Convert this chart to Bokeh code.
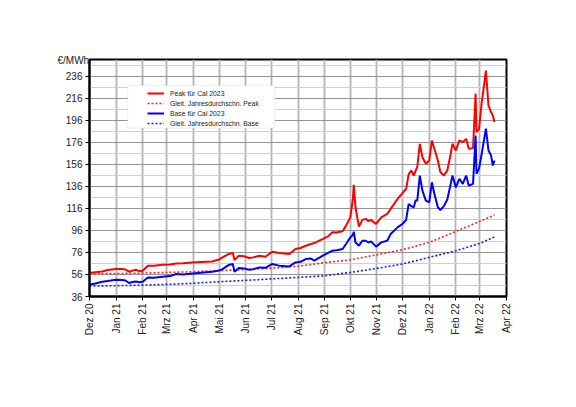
import math
import pandas as pd
from bokeh.plotting import figure
from bokeh.models import (Range1d, FixedTicker, Legend, LegendItem, Title,
                          BoxAnnotation, ColumnDataSource)
from bokeh.embed import file_html
from bokeh.resources import INLINE

# ---------------- data ----------------
dates = ["2020-12-01", "2020-12-08", "2020-12-16", "2020-12-22", "2021-01-01",
         "2021-01-08", "2021-01-12", "2021-01-16", "2021-01-20", "2021-01-24",
         "2021-01-28", "2021-02-01", "2021-02-07", "2021-02-14", "2021-02-24",
         "2021-03-05", "2021-03-12", "2021-03-20", "2021-03-31", "2021-04-10",
         "2021-04-23", "2021-05-01", "2021-05-05", "2021-05-12", "2021-05-17",
         "2021-05-19", "2021-05-24", "2021-05-30", "2021-06-05", "2021-06-10",
         "2021-06-17", "2021-06-24", "2021-07-02", "2021-07-10", "2021-07-22",
         "2021-07-29", "2021-08-04", "2021-08-10", "2021-08-16", "2021-08-20",
         "2021-08-30", "2021-09-05", "2021-09-10", "2021-09-15", "2021-09-22",
         "2021-09-26", "2021-10-01", "2021-10-04", "2021-10-05", "2021-10-07",
         "2021-10-11", "2021-10-15", "2021-10-19", "2021-10-22", "2021-10-25",
         "2021-10-31", "2021-11-06", "2021-11-13", "2021-11-17", "2021-11-25",
         "2021-12-01", "2021-12-05", "2021-12-08", "2021-12-11", "2021-12-14",
         "2021-12-16", "2021-12-18", "2021-12-21", "2021-12-24", "2021-12-28",
         "2022-01-01", "2022-01-04", "2022-01-07", "2022-01-11", "2022-01-14",
         "2022-01-18", "2022-01-22", "2022-01-26", "2022-01-28", "2022-02-01",
         "2022-02-05", "2022-02-09", "2022-02-13", "2022-02-16", "2022-02-21",
         "2022-02-24", "2022-02-25", "2022-02-28", "2022-03-03", "2022-03-08",
         "2022-03-11", "2022-03-14", "2022-03-16", "2022-03-18"]

peak = [57.3, 58.0, 58.7, 60.0, 60.9,
        61.0, 60.5, 58.5, 59.5, 60.3,
        59.0, 59.4, 63.9, 64.0, 64.8,
        65.0, 66.0, 66.2, 66.9, 67.3,
        67.8, 69.5, 71.5, 74.5, 75.5,
        69.0, 73.0, 72.5, 70.9, 71.5,
        73.0, 72.0, 76.6, 75.5, 74.5,
        79.0, 80.0, 82.0, 83.6, 84.5,
        88.2, 90.5, 94.2, 94.0, 95.1,
        100.3, 107.8, 125.0, 137.3, 117.0,
        99.4, 105.5, 106.4, 104.5, 105.5,
        101.8, 107.8, 110.9, 115.5, 124.5,
        130.0, 133.5, 147.0, 150.3, 145.7,
        150.0, 153.3, 174.5, 162.4, 156.4,
        159.4, 177.5, 170.0, 159.4, 148.7,
        145.7, 150.3, 165.5, 174.5, 168.5,
        177.5, 176.0, 179.0, 170.0, 170.6,
        220.0, 185.0, 188.0, 210.9, 241.0,
        209.4, 203.3, 200.3, 194.2]

base = [46.6, 47.8, 49.4, 50.0, 51.2,
        51.0, 50.5, 48.2, 49.2, 49.6,
        49.0, 49.4, 53.3, 53.0, 53.9,
        54.5, 56.4, 56.0, 56.9, 57.6,
        58.5, 59.5, 60.9, 64.5, 65.5,
        58.5, 61.8, 61.5, 60.3, 60.8,
        62.4, 62.0, 65.5, 64.0, 63.3,
        66.9, 67.5, 70.0, 70.5, 68.5,
        73.0, 75.5, 77.5, 78.0, 79.1,
        83.6, 89.6, 92.0, 94.8, 85.0,
        82.1, 86.6, 86.6, 85.0, 86.0,
        81.2, 85.1, 86.6, 92.7, 98.7,
        102.0, 105.5, 120.0, 118.0, 117.0,
        123.0, 123.0, 145.7, 132.0, 123.0,
        121.5, 139.6, 129.0, 117.0, 114.5,
        118.0, 124.0, 138.2, 145.7, 135.0,
        142.8, 138.2, 145.7, 136.6, 138.2,
        182.0, 147.3, 152.0, 165.0, 188.2,
        168.5, 164.0, 154.8, 159.4]

avg_dates = ["2020-12-01", "2021-01-01", "2021-02-01", "2021-03-01", "2021-04-01",
             "2021-05-01", "2021-06-01", "2021-07-01", "2021-08-01", "2021-09-01",
             "2021-10-01", "2021-11-01", "2021-12-01", "2022-01-01", "2022-02-01",
             "2022-03-01", "2022-03-18"]
avg_peak = [56.6, 56.8, 57.2, 57.8, 58.5, 59.4, 60.5, 61.7, 63.4, 66.7,
            69.3, 73.9, 78.5, 85.1, 95.0, 104.2, 110.0]
avg_base = [45.5, 45.8, 46.3, 47.0, 48.0, 49.4, 50.6, 52.0, 53.3, 54.8,
            57.8, 61.5, 65.5, 71.5, 77.5, 84.2, 90.0]

tick_dates = ["2020-12-01", "2021-01-01", "2021-02-01", "2021-03-01", "2021-04-01",
              "2021-05-01", "2021-06-01", "2021-07-01", "2021-08-01", "2021-09-01",
              "2021-10-01", "2021-11-01", "2021-12-01", "2022-01-01", "2022-02-01",
              "2022-03-01", "2022-04-01"]
tick_labels = ["Dez 20", "Jan 21", "Feb 21", "Mrz 21", "Apr 21", "Mai 21",
               "Jun 21", "Jul 21", "Aug 21", "Sep 21", "Okt 21", "Nov 21",
               "Dez 21", "Jan 22", "Feb 22", "Mrz 22", "Apr 22"]
y_ticks = [36, 56, 76, 96, 116, 136, 156, 176, 196, 216, 236]
y_minor = [46, 66, 86, 106, 126, 146, 166, 186, 206, 226, 246]
unit_label = "€/MWh"

# ---------------- plot ----------------
FONT = "Liberation Sans"

def ms(d):
    return float(pd.Timestamp(d).value // 10**6)

src = ColumnDataSource(dict(x=pd.to_datetime(dates), peak=peak, base=base))
asrc = ColumnDataSource(dict(x=pd.to_datetime(avg_dates), peak=avg_peak, base=avg_base))

title = Title(text=unit_label, align="left", offset=-32, standoff=-13,
              text_font=FONT, text_font_size="10px", text_font_style="normal",
              text_color="#222222")

p = figure(x_axis_type="datetime", output_backend="svg", toolbar_location=None,
           frame_width=417, frame_height=237, title=title,
           min_border_left=89, min_border_right=62, min_border_top=59,
           min_border_bottom=104,
           x_range=Range1d(pd.Timestamp(tick_dates[0]), pd.Timestamp(tick_dates[-1])),
           y_range=Range1d(36, 251))
p.background_fill_color = "white"
p.border_fill_color = "white"
p.outline_line_color = "black"
p.outline_line_width = 2

# grids
p.xgrid.ticker = FixedTicker(ticks=[ms(d) for d in tick_dates])
p.xgrid.grid_line_color = "#b4b4b4"
p.xgrid.grid_line_width = 1.8
p.ygrid.grid_line_color = "#939393"
p.ygrid.grid_line_width = 1
p.ygrid.minor_grid_line_color = "#cfcfcf"
p.ygrid.minor_grid_line_width = 1

# axes
p.xaxis.ticker = FixedTicker(ticks=[ms(d) for d in tick_dates])
p.xaxis.major_label_overrides = {ms(d): l for d, l in zip(tick_dates, tick_labels)}
p.xaxis.major_label_orientation = math.pi / 2
p.yaxis.ticker = FixedTicker(ticks=y_ticks, minor_ticks=y_minor)
for ax in (p.xaxis[0], p.yaxis[0]):
    ax.axis_line_color = "black"
    ax.axis_line_width = 2
    ax.major_tick_line_color = "black"
    ax.major_tick_in = 0
    ax.major_tick_out = 4
    ax.minor_tick_line_color = None
    ax.major_label_text_font = FONT
    ax.major_label_text_font_size = "10px"
    ax.major_label_text_color = "#222222"
    ax.major_label_standoff = 3

# lines
r_avg_peak = p.line("x", "peak", source=asrc, color="#ff2020", line_width=1.6, line_dash="2 2")
r_avg_base = p.line("x", "base", source=asrc, color="#1a1aff", line_width=1.6, line_dash="2 2")
r_peak = p.line("x", "peak", source=src, color="#ff0000", line_width=2)
r_base = p.line("x", "base", source=src, color="#0000ff", line_width=2)

# legend box + legend
p.add_layout(BoxAnnotation(left=pd.Timestamp("2021-01-14 14:00"),
                           right=pd.Timestamp("2021-07-05"),
                           bottom=188.8, top=227.5,
                           fill_color="white", fill_alpha=1,
                           line_color="#c8c8c8", line_width=1))
legend = Legend(items=[
    LegendItem(label="Peak für Cal 2023", renderers=[r_peak]),
    LegendItem(label="Gleit. Jahresdurchschn. Peak", renderers=[r_avg_peak]),
    LegendItem(label="Base für Cal 2023", renderers=[r_base]),
    LegendItem(label="Gleit. Jahresdurchschn. Base", renderers=[r_avg_base]),
], location=(58, 168), padding=0, spacing=0, margin=0,
    glyph_width=17, glyph_height=10, label_height=10, label_standoff=6,
    label_text_font=FONT, label_text_font_size="6.8px",
    label_text_color="#222222",
    background_fill_alpha=0, border_line_alpha=0)
p.add_layout(legend)

open("out.html", "w").write(file_html(p, INLINE))
